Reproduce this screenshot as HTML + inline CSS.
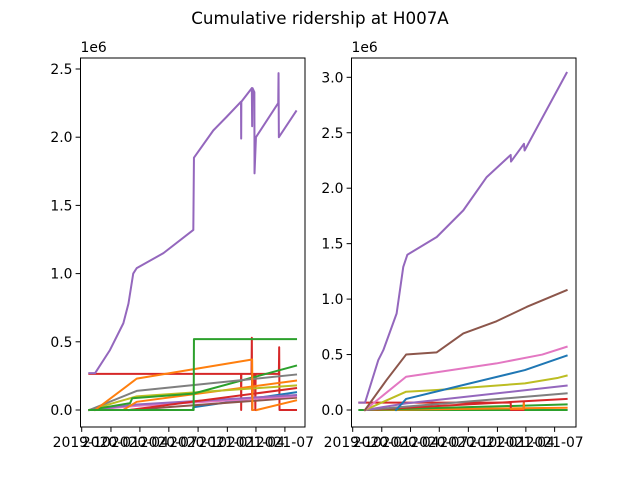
<!DOCTYPE html>
<html><head><meta charset="utf-8"><style>
body{margin:0;background:#fff}
svg{display:block;font-family:"DejaVu Sans","Liberation Sans",sans-serif}
</style></head><body>
<svg id="fig" width="640" height="480" viewBox="0 0 640 480">
<rect width="640" height="480" fill="#fff"/>
<text x="320" y="24" font-size="16.7" text-anchor="middle">Cumulative ridership at H007A</text>
</svg>
<script>
// x values: days since 2019-10-01; y values: millions of riders
const xTickDays = [0, 92, 183, 274, 366, 458, 548, 639];
const xTickLabels = ["2019-10", "2020-01", "2020-04", "2020-07", "2020-10", "2021-01", "2021-04", "2021-07"];
const leftYTicks = [0, 0.5, 1.0, 1.5, 2.0, 2.5];
const rightYTicks = [0, 0.5, 1.0, 1.5, 2.0, 2.5, 3.0];
const seriesColors = ["#1f77b4","#ff7f0e","#2ca02c","#d62728","#9467bd","#8c564b","#e377c2","#7f7f7f","#bcbd22","#17becf"];

const leftSeries = [
  {c:3, d:[[24,0.265],[501,0.265],[501.5,0],[502,0.265],[534,0.265],[535,0.53],[536,0],[540,0.265],[545,0.265],[546,0],[547,0.265],[620,0.265],[621,0.46],[622,0],[674,0]]},
  {c:0, d:[[24,0],[350,0],[351,0.02],[674,0.13]]},
  {c:5, d:[[24,0],[150,0],[674,0.09]]},
  {c:6, d:[[24,0],[173,0.03],[674,0.1]]},
  {c:4, d:[[24,0],[173,0.04],[674,0.11]]},
  {c:1, d:[[24,0],[130,0],[173,0.06],[674,0.215]]},
  {c:1, d:[[550,0],[674,0.07]]},
  {c:3, d:[[150,0],[674,0.16]]},
  {c:8, d:[[24,0],[173,0.1],[674,0.18]]},
  {c:2, d:[[24,0],[152,0.05],[159,0.086],[351,0.12],[674,0.325]]},
  {c:7, d:[[24,0],[173,0.14],[674,0.26]]},
  {c:1, d:[[42,0],[173,0.23],[536,0.37],[537,0],[540,0]]},
  {c:2, d:[[24,0],[352,0],[353,0.52],[674,0.52]]},
  {c:4, d:[[24,0.27],[42,0.27],[89,0.44],[131,0.636],[147,0.78],[162,1.0],[173,1.04],[257,1.15],[351,1.32],[353,1.85],[414,2.05],[456,2.15],[501,2.26],[501.5,1.99],[502,2.26],[535,2.36],[536,2.08],[537,2.36],[543,2.33],[543.5,1.735],[548,2.0],[618,2.25],[619,2.47],[620,2.0],[674,2.19]]}
];
const rightSeries = [
  {c:2, d:[[21,0],[677,0]]},
  {c:1, d:[[39,0],[677,0.02]]},
  {c:2, d:[[39,0],[677,0.05]]},
  {c:3, d:[[21,0.066],[500,0.066],[500.5,0.0],[541,0.0],[541.5,0.066]]},
  {c:3, d:[[39,0],[677,0.1]]},
  {c:1, d:[[500,0.01],[541,0.01],[541.5,0.06],[542,0.02]]},
  {c:7, d:[[39,0],[169,0.03],[677,0.15]]},
  {c:4, d:[[39,0],[169,0.06],[677,0.22]]},
  {c:8, d:[[39,0],[169,0.165],[266,0.18],[545,0.24],[650,0.29],[677,0.31]]},
  {c:0, d:[[137,0],[169,0.1],[371,0.24],[545,0.36],[677,0.49]]},
  {c:6, d:[[39,0],[169,0.3],[266,0.34],[455,0.42],[600,0.5],[677,0.57]]},
  {c:5, d:[[39,0],[107,0.27],[169,0.5],[266,0.52],[350,0.69],[455,0.8],[551,0.93],[677,1.08]]},
  {c:4, d:[[21,0.066],[39,0.066],[81,0.45],[97,0.54],[139,0.87],[160,1.29],[173,1.4],[266,1.56],[350,1.8],[424,2.1],[500,2.3],[501,2.24],[542,2.4],[544,2.34],[677,3.04]]}
];

const NS = "http://www.w3.org/2000/svg";
const svg = document.getElementById("fig");
function mk(tag, attrs, parent){const e=document.createElementNS(NS,tag);for(const k in attrs)e.setAttribute(k,attrs[k]);(parent||svg).appendChild(e);return e;}

function drawAxes(prefix, ax, yTicks, series){
  const xs = d => ax.x0 + d * ax.pxPerDay;
  const ys = v => ax.yZero - v * ax.pxPerM;
  const g = mk("g", {});
  
  
  const clip = mk("clipPath", {id: prefix+"clip"}, g);
  mk("rect", {x:ax.left, y:ax.top, width:ax.right-ax.left, height:ax.bottom-ax.top}, clip);
  const lines = mk("g", {"clip-path":"url(#"+prefix+"clip)"}, g);
  series.forEach((s, i) => {
    const p = mk("polyline", {points: s.d.map(q => xs(q[0]).toFixed(2)+","+ys(q[1]).toFixed(2)).join(" "), fill:"none", stroke:seriesColors[s.c], "stroke-width":2, "stroke-linejoin":"round", "stroke-linecap":"square"}, lines);
    
    
  });
  const frame = mk("rect", {x:ax.left, y:ax.top, width:ax.right-ax.left, height:ax.bottom-ax.top, fill:"none", stroke:"#000", "stroke-width":1}, g);
  
  
  yTicks.forEach(v => {
    const y = ys(v);
    mk("line", {x1:ax.left-4.9, x2:ax.left, y1:y, y2:y, stroke:"#000", "stroke-width":1}, g);
    const t = mk("text", {x:ax.left-8, y:y+5, "font-size":13.9, "text-anchor":"end"}, g);
    t.textContent = v.toFixed(1);
    
    
  });
  xTickDays.forEach((d, i) => {
    const x = xs(d);
    mk("line", {x1:x, x2:x, y1:ax.bottom, y2:ax.bottom+4.9, stroke:"#000", "stroke-width":1}, g);
    const t = mk("text", {x:x, y:ax.bottom+20, "font-size":13.9, "text-anchor":"middle"}, g);
    t.textContent = xTickLabels[i];
    
    
  });
  const off = mk("text", {x:ax.left, y:ax.top-6, "font-size":13.9}, g);
  off.textContent = "1e6";
  
  
}

drawAxes("left", {left:80.5, right:305, top:58, bottom:427, x0:81.7, pxPerDay:0.318, yZero:410, pxPerM:136.4}, leftYTicks, leftSeries);
drawAxes("right", {left:351.5, right:576, top:58, bottom:427, x0:352.7, pxPerDay:0.316, yZero:410, pxPerM:110.9}, rightYTicks, rightSeries);
</script>
</body></html>
